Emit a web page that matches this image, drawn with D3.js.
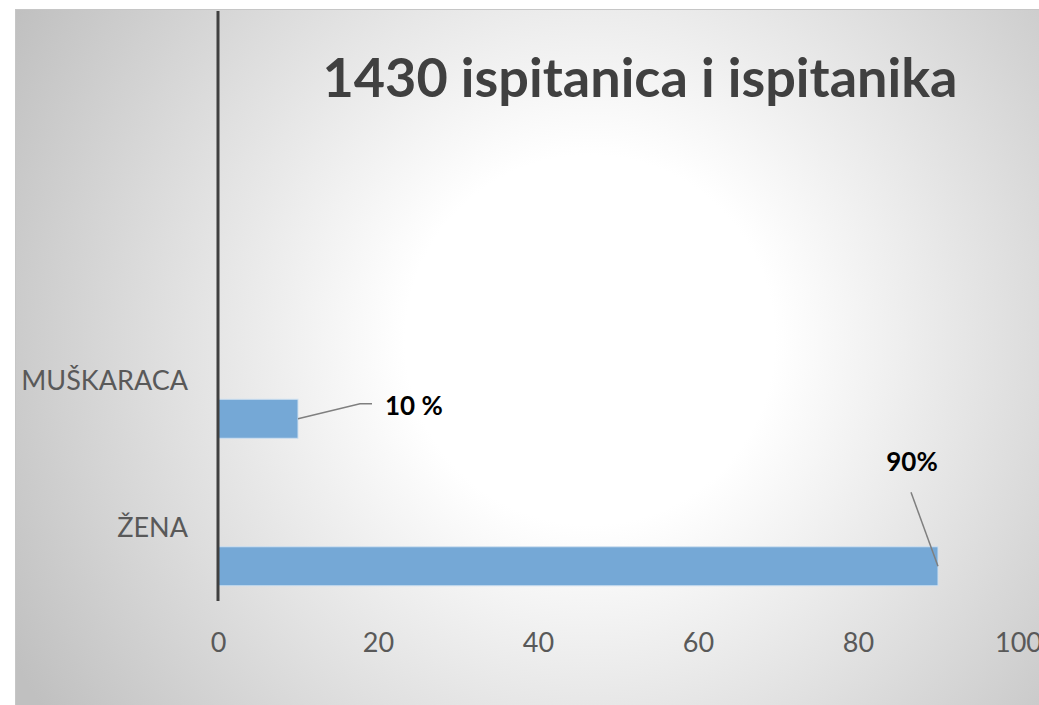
<!DOCTYPE html>
<html>
<head>
<meta charset="utf-8">
<script src="https://cdn.jsdelivr.net/npm/d3@7"></script>
<style>
  html, body { margin: 0; padding: 0; background: #fff; overflow: hidden; }
  text { font-family: Lato, "Open Sans", sans-serif; }
</style>
</head>
<body>
<script>
// podaci
const title = '1430 ispitanica i ispitanika';
const categories = ['ŽENA', 'MUŠKARACA'];
const values = [90, 10];
const valueLabels = ['90%', '10 %'];
const ticks = [0, 20, 40, 60, 80, 100];

const W = 1039, H = 705;
const svg = d3.select('body').append('svg')
  .attr('width', W)
  .attr('height', H);

// radijalni gradijent pozadine
const defs = svg.append('defs');
const grad = defs.append('radialGradient')
  .attr('id', 'bg')
  .attr('gradientUnits', 'userSpaceOnUse')
  .attr('cx', 590).attr('cy', 340).attr('r', 660);
grad.append('stop').attr('offset', '0%').attr('stop-color', '#ffffff');
grad.append('stop').attr('offset', '28%').attr('stop-color', '#ffffff');
grad.append('stop').attr('offset', '100%').attr('stop-color', '#c0c0c0');

svg.append('rect')
  .attr('x', 15).attr('y', 10)
  .attr('width', W).attr('height', H)
  .attr('fill', 'url(#bg)');
svg.append('line')
  .attr('x1', 15).attr('x2', W).attr('y1', 9.5).attr('y2', 9.5)
  .attr('stroke', '#c6c6c6').attr('stroke-width', 1);
svg.append('line')
  .attr('x1', 15.5).attr('x2', 15.5).attr('y1', 10).attr('y2', H)
  .attr('stroke', '#c6c6c6').attr('stroke-width', 1);

// skale
const x = d3.scaleLinear().domain([0, 100]).range([218, 1018]);
// Excel ostavlja dva prazna reda iznad
const y = d3.scaleBand().domain(d3.range(4)).range([601, 11]);
const inner = d3.scaleBand().domain([0, 1, 2]).range([y.bandwidth(), 0]).paddingOuter(0.39);

// naslov
svg.append('text')
  .attr('x', 640).attr('y', 97)
  .attr('text-anchor', 'middle')
  .attr('font-size', 54)
  .attr('font-weight', 'bold')
  .attr('fill', '#404040')
  .text(title);

// trake
svg.selectAll('rect.bar')
  .data(values)
  .enter().append('rect')
  .attr('class', 'bar')
  .attr('x', x(0))
  .attr('y', (d, i) => y(i) + inner(0))
  .attr('width', d => x(d) - x(0))
  .attr('height', inner.bandwidth())
  .attr('fill', '#75a8d6')
  .attr('stroke', '#cfe0f0')
  .attr('stroke-width', 1);

// os x (samo oznake)
const xAxis = svg.append('g')
  .attr('transform', 'translate(0,652)')
  .call(d3.axisBottom(x).tickValues(ticks).tickSize(0).tickPadding(0));
xAxis.select('.domain').remove();
xAxis.selectAll('text')
  .attr('dy', 0)
  .attr('font-size', 27)
  .attr('fill', '#595959')
  .style('font-family', 'Lato, "Open Sans", sans-serif');

// kategorije
svg.selectAll('text.cat')
  .data(categories)
  .enter().append('text')
  .attr('class', 'cat')
  .attr('x', 188)
  .attr('y', (d, i) => y(i) + y.bandwidth() / 2 + 10)
  .attr('text-anchor', 'end')
  .attr('font-size', 27)
  .attr('fill', '#595959')
  .text(d => d);

// vertikalna os
svg.append('line')
  .attr('x1', x(0)).attr('x2', x(0))
  .attr('y1', 11).attr('y2', 601)
  .attr('stroke', '#404040')
  .attr('stroke-width', 3);

// oznake vrijednosti s linijama
const labelPos = [
  { dx: -26, dy: -95, anchor: 'middle', line: [[0, 0], [-27, -74]] },
  { dx: 87, dy: -4, anchor: 'start', line: [[0, 0], [62, -15], [74, -15]] }
];
values.forEach((v, i) => {
  const bx = x(v), by = y(i) + inner(0) + inner.bandwidth() / 2;
  const p = labelPos[i];
  svg.append('path')
    .attr('d', d3.line()(p.line.map(q => [bx + q[0], by + q[1]])))
    .attr('fill', 'none')
    .attr('stroke', '#7f7f7f')
    .attr('stroke-width', 1.5);
  svg.append('text')
    .attr('x', bx + p.dx)
    .attr('y', by + p.dy)
    .attr('text-anchor', p.anchor)
    .attr('font-size', 26)
    .attr('font-weight', 'bold')
    .attr('fill', '#000')
    .text(valueLabels[i]);
});
</script>
</body>
</html>
